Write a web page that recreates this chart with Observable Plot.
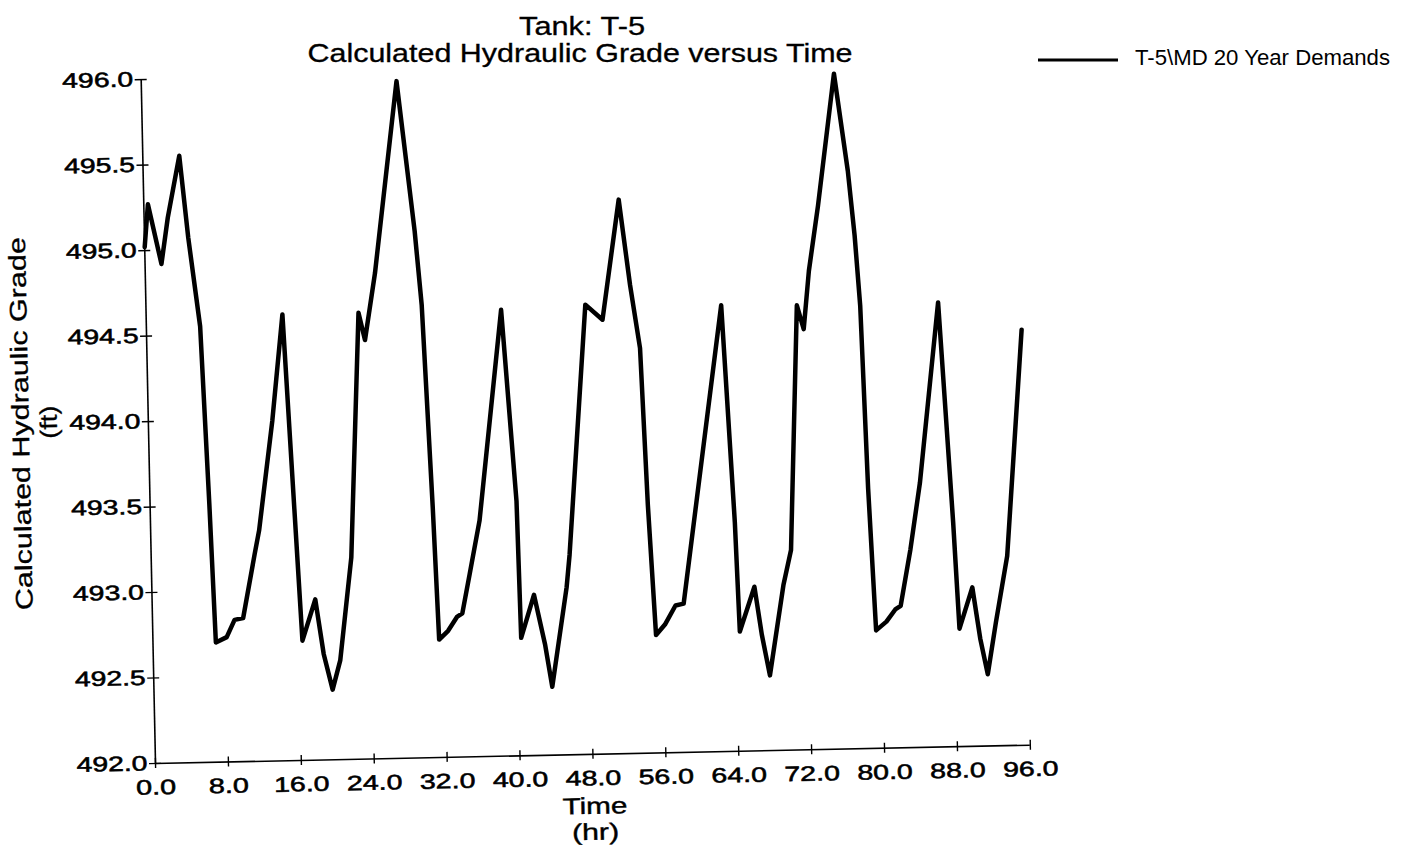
<!DOCTYPE html>
<html>
<head>
<meta charset="utf-8">
<script src="https://cdn.jsdelivr.net/npm/d3@7"></script>
<script src="https://cdn.jsdelivr.net/npm/@observablehq/plot@0.6"></script>
<style>
  html, body { margin: 0; padding: 0; background: #fff; width: 1410px; height: 850px; overflow: hidden; }
  #wrap { position: relative; width: 1410px; height: 850px; }
  #chart { position: absolute; left: 0; top: 0; transform: rotate(-1.2deg); transform-origin: 155px 763px; }
  #overlay { position: absolute; left: 0; top: 0; pointer-events: none; }
</style>
</head>
<body>
<div id="wrap">
  <div id="chart"></div>
  <svg id="overlay" width="1410" height="850"></svg>
</div>
<script>
// ---- Data ----
const hours = [
  0.0, 0.45, 1.8, 2.6, 4.0, 4.8, 5.9, 6.5, 6.9, 8.1, 9.0, 9.95, 11.35, 11.9, 13.6, 14.95,
  16.4, 17.9, 18.7, 19.6, 20.5, 21.95, 23.3, 23.95, 25.2, 28.0, 29.65, 30.25, 31.0, 31.4,
  32.4, 33.4, 34.0, 34.9, 36.1, 38.95, 40.2, 40.4, 41.9, 43.0, 43.7, 45.5, 45.9, 48.2,
  50.05, 52.1, 53.15, 54.1, 54.6, 55.2, 56.2, 57.4, 58.3, 59.9, 63.1, 64.1, 64.4, 66.1,
  66.8, 67.6, 69.3, 70.2, 71.4, 72.1, 72.8, 73.95, 76.0, 77.3, 77.9, 78.35, 78.8, 79.35,
  80.5, 81.5, 82.1, 83.3, 84.5, 86.9, 88.05, 88.5, 90.0, 90.75, 91.5, 92.5, 93.9, 96.0
];
const grade = [
  495.02, 495.27, 494.92, 495.19, 495.55, 495.07, 494.55, 493.51, 492.70, 492.73, 492.83, 492.84, 493.21, 493.35, 493.99, 494.61,
  492.70, 492.94, 492.62, 492.41, 492.58, 493.18, 494.61, 494.45, 494.84, 495.96, 495.08, 494.65, 493.46, 492.69,
  492.74, 492.82, 492.84, 493.07, 493.38, 494.61, 493.49, 492.69, 492.94, 492.65, 492.40, 492.98, 493.17, 494.63,
  494.54, 495.24, 494.74, 494.37, 493.45, 492.69, 492.75, 492.86, 492.87, 493.45, 494.61, 493.34, 492.70, 492.96,
  492.68, 492.44, 492.97, 493.17, 494.60, 494.46, 494.80, 495.18, 495.95, 495.38, 495.00, 494.59, 493.52, 492.69,
  492.74, 492.81, 492.83, 493.16, 493.55, 494.60, 493.31, 492.69, 492.93, 492.63, 492.42, 492.72, 493.11, 494.43
];
const xTicks = [0, 8, 16, 24, 32, 40, 48, 56, 64, 72, 80, 88, 96];
const yTicks = [492.0, 492.5, 493.0, 493.5, 494.0, 494.5, 495.0, 495.5, 496.0];

const titleLines = ["Tank: T-5", "Calculated Hydraulic Grade versus Time"];
const yTitleLines = ["Calculated Hydraulic Grade", "(ft)"];
const xTitleLines = ["Time", "(hr)"];
const seriesName = "T-5\\MD 20 Year Demands";

const data = hours.map((h, i) => ({hour: h, grade: grade[i]}));
const FONT = "'Liberation Sans', Arial, sans-serif";

const plot = Plot.plot({
  width: 1410,
  height: 850,
  marginLeft: 155,
  marginRight: 380,
  marginTop: 79,
  marginBottom: 87,
  style: {fontFamily: FONT, fontSize: "21px", color: "#000", background: "transparent", overflow: "visible"},
  x: {domain: [xTicks[0], xTicks[xTicks.length - 1]], label: null},
  y: {domain: [yTicks[0], yTicks[yTicks.length - 1]], label: null},
  marks: [
    Plot.ruleX([xTicks[0]], {y1: yTicks[0], y2: yTicks[yTicks.length - 1], stroke: "#000", strokeWidth: 1.6}),
    Plot.ruleY([yTicks[0]], {x1: xTicks[0], x2: xTicks[xTicks.length - 1], stroke: "#000", strokeWidth: 1.6}),
    Plot.ruleX(xTicks, {y1: yTicks[0], y2: yTicks[0], insetTop: -5, insetBottom: -5, stroke: "#000", strokeWidth: 1.4}),
    Plot.ruleY(yTicks, {x1: xTicks[0], x2: xTicks[0], insetLeft: -6, insetRight: -6, stroke: "#000", strokeWidth: 1.4}),
    Plot.axisX(xTicks, {tickSize: 0, tickPadding: 16, tickFormat: d => d.toFixed(1), label: null}),
    Plot.axisY(yTicks, {tickSize: 0, tickPadding: 8, tickFormat: d => d.toFixed(1), label: null}),
    Plot.line(data, {x: "hour", y: "grade", stroke: "#000", strokeWidth: 4.5, strokeLinejoin: "round", strokeLinecap: "round"})
  ]
});
document.getElementById("chart").appendChild(plot);

// stretch tick labels to the wide, heavy lettering of the original
d3.select(plot)
  .selectAll('g[aria-label="x-axis tick label"] text, g[aria-label="y-axis tick label"] text')
  .each(function() {
    const s = this.textContent;
    const digits = s.replace(".", "").length;
    this.setAttribute("textLength", digits * 15.5 + 9);
    this.setAttribute("lengthAdjust", "spacingAndGlyphs");
    this.setAttribute("stroke", "#000");
    this.setAttribute("stroke-width", "0.55");
  });

// axis titles (inside the rotated plot svg)
const psvg = d3.select(plot);
const yTitleSpec = [{x: 36, y: 421, len: 373}, {x: 64, y: 420, len: 33}];
yTitleLines.forEach((t, i) => {
  psvg.append("text")
    .attr("transform", `translate(${yTitleSpec[i].x},${yTitleSpec[i].y}) rotate(-90)`)
    .attr("text-anchor", "middle")
    .attr("font-family", FONT)
    .attr("font-size", 24)
    .attr("fill", "#000")
    .attr("stroke", "#000")
    .attr("stroke-width", 0.3)
    .attr("textLength", yTitleSpec[i].len)
    .attr("lengthAdjust", "spacingAndGlyphs")
    .text(t);
});
const xTitleSpec = [{x: 594, y: 823, len: 65}, {x: 594, y: 849, len: 47}];
xTitleLines.forEach((t, i) => {
  psvg.append("text")
    .attr("x", xTitleSpec[i].x)
    .attr("y", xTitleSpec[i].y)
    .attr("text-anchor", "middle")
    .attr("font-family", FONT)
    .attr("font-size", 23)
    .attr("fill", "#000")
    .attr("stroke", "#000")
    .attr("stroke-width", 0.4)
    .attr("textLength", xTitleSpec[i].len)
    .attr("lengthAdjust", "spacingAndGlyphs")
    .text(t);
});

// title + legend (unrotated overlay)
const ov = d3.select("#overlay");
const titleSpec = [{x: 582, y: 35, len: 126}, {x: 580, y: 62, len: 545}];
titleLines.forEach((t, i) => {
  ov.append("text")
    .attr("x", titleSpec[i].x)
    .attr("y", titleSpec[i].y)
    .attr("text-anchor", "middle")
    .attr("font-family", FONT)
    .attr("font-size", 25)
    .attr("fill", "#000")
    .attr("stroke", "#000")
    .attr("stroke-width", 0.3)
    .attr("textLength", titleSpec[i].len)
    .attr("lengthAdjust", "spacingAndGlyphs")
    .text(t);
});
ov.append("line")
  .attr("x1", 1038).attr("x2", 1118).attr("y1", 60).attr("y2", 60)
  .attr("stroke", "#000").attr("stroke-width", 3.2);
ov.append("text")
  .attr("x", 1135).attr("y", 65)
  .attr("font-family", FONT)
  .attr("font-size", 22)
  .attr("fill", "#000")
  .attr("textLength", 255)
  .attr("lengthAdjust", "spacingAndGlyphs")
  .text(seriesName);
</script>
</body>
</html>
